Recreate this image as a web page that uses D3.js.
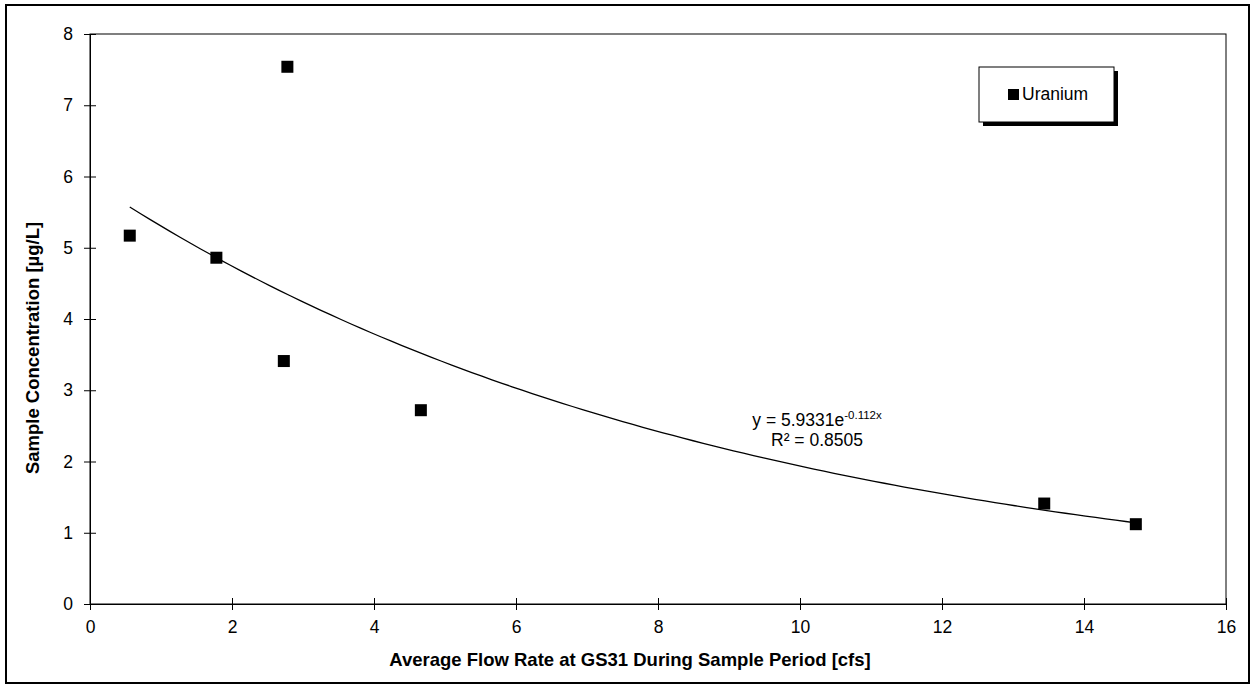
<!DOCTYPE html>
<html>
<head>
<meta charset="utf-8">
<script src="https://cdn.jsdelivr.net/npm/d3@7"></script>
<style>
  body { margin: 0; background: #fff; }
  text { font-family: "Liberation Sans", Arial, sans-serif; fill: #000; }
</style>
</head>
<body>
<main></main>
<script>
// values
const flowRate = [0.56, 1.78, 2.73, 2.78, 4.66, 13.44, 14.73];
const uranium = [5.17, 4.86, 3.41, 7.54, 2.72, 1.41, 1.12];
const xTicks = [0, 2, 4, 6, 8, 10, 12, 14, 16];
const yTicks = [0, 1, 2, 3, 4, 5, 6, 7, 8];
const fitA = 5.9331;
const fitB = -0.112;
const fitR2 = '0.8505';

const W = 1254, H = 685;
const plot = { left: 90, right: 1226, top: 34, bottom: 604 };

const svg = d3.select('main').append('svg')
  .attr('width', W)
  .attr('height', H);

// outer chart border
svg.append('rect')
  .attr('x', 6).attr('y', 5)
  .attr('width', 1243).attr('height', 678)
  .attr('fill', 'none')
  .attr('stroke', '#000')
  .attr('stroke-width', 2);

const xScale = d3.scaleLinear().domain([0, 16]).range([plot.left, plot.right]);
const yScale = d3.scaleLinear().domain([0, 8]).range([plot.bottom, plot.top]);

// plot area frame
svg.append('rect')
  .attr('x', plot.left).attr('y', plot.top)
  .attr('width', plot.right - plot.left)
  .attr('height', plot.bottom - plot.top)
  .attr('fill', 'none')
  .attr('stroke', '#000')
  .attr('stroke-width', 1);

const xAxis = d3.axisBottom(xScale).tickValues(xTicks).tickSize(6).tickPadding(11).tickFormat(d3.format('d'));
const yAxis = d3.axisLeft(yScale).tickValues(yTicks).tickSize(6).tickPadding(11).tickFormat(d3.format('d'));

const gx = svg.append('g')
  .attr('transform', `translate(0, ${plot.bottom})`)
  .call(xAxis);
const gy = svg.append('g')
  .attr('transform', `translate(${plot.left}, 0)`)
  .call(yAxis);

[gx, gy].forEach(g => {
  g.select('.domain').attr('stroke', '#000');
  g.selectAll('.tick line').attr('stroke', '#000');
  g.selectAll('text')
    .attr('font-family', '"Liberation Sans", Arial, sans-serif')
    .attr('font-size', 17.5)
    .attr('fill', '#000');
});
// ticks cross the axis
gx.selectAll('.tick line').attr('y1', -6);
gy.selectAll('.tick line').attr('x1', 6);

// axis titles (centred on the chart area)
svg.append('text')
  .attr('x', 630)
  .attr('y', 666)
  .attr('text-anchor', 'middle')
  .attr('font-size', 18.5)
  .attr('font-weight', 'bold')
  .text('Average Flow Rate at GS31 During Sample Period [cfs]');

svg.append('text')
  .attr('transform', 'translate(39, 348) rotate(-90)')
  .attr('text-anchor', 'middle')
  .attr('font-size', 18.5)
  .attr('font-weight', 'bold')
  .text('Sample Concentration [µg/L]');

// exponential trendline from the fitted equation
const xMin = d3.min(flowRate), xMax = d3.max(flowRate);
const fitX = d3.range(0, 101).map(i => xMin + (xMax - xMin) * i / 100);
const line = d3.line()
  .x(d => xScale(d))
  .y(d => yScale(fitA * Math.exp(fitB * d)));

svg.append('path')
  .datum(fitX)
  .attr('d', line)
  .attr('fill', 'none')
  .attr('stroke', '#000')
  .attr('stroke-width', 1.3);

// markers
const sq = 12;
svg.selectAll('rect.pt')
  .data(flowRate)
  .enter()
  .append('rect')
  .attr('class', 'pt')
  .attr('x', d => xScale(d) - sq / 2)
  .attr('y', (d, i) => yScale(uranium[i]) - sq / 2)
  .attr('width', sq)
  .attr('height', sq)
  .attr('fill', '#000');

// equation label
const eq = svg.append('text')
  .attr('x', 817)
  .attr('y', 426)
  .attr('text-anchor', 'middle')
  .attr('font-size', 17.5);
eq.append('tspan').text(`y = ${fitA}e`);
eq.append('tspan')
  .attr('font-size', 11.5)
  .attr('dy', -7)
  .text(`${fitB}x`);

svg.append('text')
  .attr('x', 817)
  .attr('y', 446)
  .attr('text-anchor', 'middle')
  .attr('font-size', 17.5)
  .text(`R² = ${fitR2}`);

// legend with drop shadow
const lg = svg.append('g').attr('transform', 'translate(979, 67)');
lg.append('rect')
  .attr('x', 4).attr('y', 4)
  .attr('width', 135).attr('height', 55)
  .attr('fill', '#000');
lg.append('rect')
  .attr('x', 0).attr('y', 0)
  .attr('width', 135).attr('height', 55)
  .attr('fill', '#fff')
  .attr('stroke', '#000')
  .attr('stroke-width', 1);
lg.append('rect')
  .attr('x', 29).attr('y', 22)
  .attr('width', 11).attr('height', 11)
  .attr('fill', '#000');
lg.append('text')
  .attr('x', 43)
  .attr('y', 33)
  .attr('font-size', 17.5)
  .text('Uranium');
</script>
</body>
</html>
